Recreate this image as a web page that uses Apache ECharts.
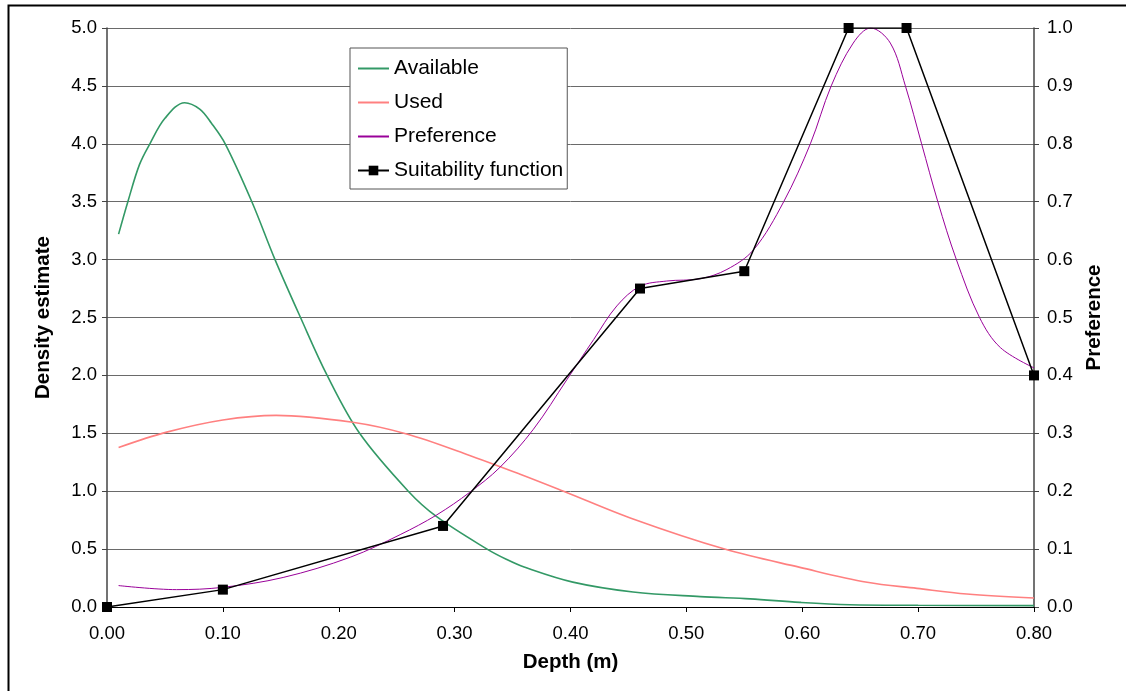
<!DOCTYPE html>
<html>
<head>
<meta charset="utf-8">
<script src="https://cdn.jsdelivr.net/npm/echarts@6/dist/echarts.min.js"></script>
<style>
html,body{margin:0;padding:0;background:#fff;}
#chart{width:1126px;height:691px;}
</style>
</head>
<body>
<div id="chart"></div>
<script>
// Data
const availDepth = [0.01, 0.018, 0.028, 0.037, 0.05, 0.067, 0.08, 0.09, 0.102, 0.125, 0.145, 0.167, 0.19, 0.218, 0.26, 0.2845, 0.328, 0.345, 0.36, 0.402, 0.454, 0.512, 0.555, 0.598, 0.641, 0.70, 0.80];
const availVal   = [3.22, 3.5, 3.82, 4.0, 4.22, 4.355, 4.3, 4.18, 4.0, 3.5, 3.0, 2.5, 2.0, 1.5, 1.0, 0.78, 0.5, 0.41, 0.345, 0.215, 0.13, 0.09, 0.07, 0.04, 0.02, 0.015, 0.012];

const usedDepth = [0.01, 0.0515, 0.10, 0.146, 0.212, 0.2586, 0.31, 0.356, 0.394, 0.454, 0.533, 0.598, 0.656, 0.699, 0.742, 0.80];
const usedVal   = [1.377, 1.51, 1.615, 1.655, 1.595, 1.494, 1.32, 1.149, 1.0, 0.76, 0.5, 0.342, 0.213, 0.161, 0.112, 0.078];

const prefDepth = [0.01, 0.06, 0.10, 0.152, 0.21, 0.253, 0.2845, 0.313, 0.339, 0.368, 0.397, 0.42, 0.44, 0.46, 0.483, 0.512, 0.535, 0.558, 0.584, 0.607, 0.625, 0.644, 0.659, 0.676, 0.689, 0.703, 0.717, 0.733, 0.753, 0.771, 0.80];
const prefVal   = [0.037, 0.030, 0.034, 0.051, 0.086, 0.125, 0.159, 0.198, 0.241, 0.307, 0.393, 0.462, 0.52, 0.554, 0.563, 0.567, 0.583, 0.617, 0.70, 0.80, 0.90, 0.974, 1.0, 0.974, 0.90, 0.80, 0.70, 0.60, 0.50, 0.448, 0.413];

const suitDepth = [0.00, 0.10, 0.29, 0.46, 0.55, 0.64, 0.69, 0.80];
const suitVal   = [0.00, 0.03, 0.14, 0.55, 0.58, 1.00, 1.00, 0.40];

const pairs = (xs, ys) => xs.map((x, i) => [x, ys[i]]);

const FONT = "'Liberation Sans', Arial, sans-serif";
const chart = echarts.init(document.getElementById('chart'), null, {renderer: 'canvas'});

chart.setOption({
  animation: false,
  backgroundColor: '#ffffff',
  textStyle: {fontFamily: FONT, color: '#000'},
  graphic: [{
    type: 'rect',
    shape: {x: 8.5, y: 5.5, width: 1200, height: 800},
    style: {fill: 'none', stroke: '#000', lineWidth: 2},
    silent: true, z: -10
  }],
  grid: {left: 107, right: 92, top: 28, bottom: 84, containLabel: false},
  legend: {
    orient: 'vertical',
    left: 350, top: 48,
    padding: [10, 4, 8, 7],
    itemGap: 13,
    itemWidth: 31, itemHeight: 12,
    backgroundColor: '#fff',
    borderColor: '#555', borderWidth: 1,
    textStyle: {fontSize: 21, color: '#000', fontFamily: FONT},
    data: [
      {name: 'Available', itemStyle: {opacity: 0}},
      {name: 'Used', itemStyle: {opacity: 0}},
      {name: 'Preference', itemStyle: {opacity: 0}},
      {name: 'Suitability function'}
    ]
  },
  xAxis: {
    type: 'value', min: 0, max: 0.8, interval: 0.1,
    name: 'Depth (m)', nameLocation: 'middle', nameGap: 45,
    nameTextStyle: {fontSize: 20.5, fontWeight: 'bold', color: '#000'},
    axisLine: {show: true, onZero: false, lineStyle: {color: '#000', width: 1}},
    axisTick: {show: true, inside: false, length: 5, lineStyle: {color: '#000'}},
    axisLabel: {fontSize: 18.5, color: '#000', margin: 17, formatter: v => v.toFixed(2)},
    splitLine: {show: false}
  },
  yAxis: [{
    type: 'value', min: 0, max: 5, interval: 0.5, position: 'left',
    name: 'Density estimate', nameLocation: 'middle', nameGap: 53, nameRotate: 90,
    nameTextStyle: {fontSize: 20.5, fontWeight: 'bold', color: '#000'},
    axisLine: {show: true, onZero: false, lineStyle: {color: '#444', width: 1.5}},
    axisTick: {show: true, inside: false, length: 5, lineStyle: {color: '#444'}},
    axisLabel: {fontSize: 18.5, color: '#000', margin: 10, formatter: v => v.toFixed(1)},
    splitLine: {show: true, lineStyle: {color: '#6a6a6a', width: 1}}
  }, {
    type: 'value', min: 0, max: 1, interval: 0.1, position: 'right',
    name: 'Preference', nameLocation: 'middle', nameGap: 50, nameRotate: 90,
    nameTextStyle: {fontSize: 20.5, fontWeight: 'bold', color: '#000'},
    axisLine: {show: true, onZero: false, lineStyle: {color: '#444', width: 1.5}},
    axisTick: {show: true, inside: false, length: 5, lineStyle: {color: '#444'}},
    axisLabel: {fontSize: 18.5, color: '#000', margin: 13, formatter: v => v.toFixed(1)},
    splitLine: {show: false}
  }],
  series: [{
    name: 'Available', type: 'line', yAxisIndex: 0,
    data: pairs(availDepth, availVal),
    smooth: 0.35, symbol: 'none',
    lineStyle: {color: '#339966', width: 1.6},
    itemStyle: {color: '#339966'}, z: 2
  }, {
    name: 'Used', type: 'line', yAxisIndex: 0,
    data: pairs(usedDepth, usedVal),
    smooth: 0.35, symbol: 'none',
    lineStyle: {color: '#ff8080', width: 1.6},
    itemStyle: {color: '#ff8080'}, z: 2
  }, {
    name: 'Preference', type: 'line', yAxisIndex: 1,
    data: pairs(prefDepth, prefVal),
    smooth: 0.35, symbol: 'none',
    lineStyle: {color: '#990099', width: 1},
    itemStyle: {color: '#990099'}, z: 3
  }, {
    name: 'Suitability function', type: 'line', yAxisIndex: 1,
    data: pairs(suitDepth, suitVal),
    symbol: 'rect', symbolSize: 10, showAllSymbol: true,
    lineStyle: {color: '#000', width: 1.5},
    itemStyle: {color: '#000'}, z: 4
  }]
});
</script>
</body>
</html>
